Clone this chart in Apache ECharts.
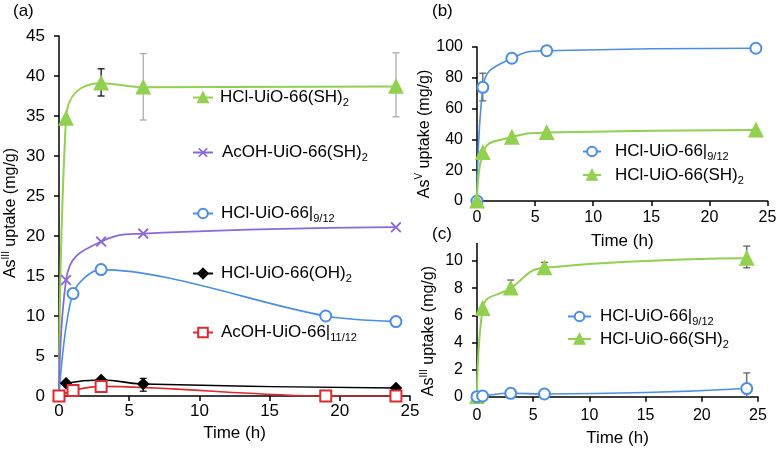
<!DOCTYPE html>
<html><head><meta charset="utf-8">
<script src="https://cdn.jsdelivr.net/npm/echarts@6/dist/echarts.min.js"></script>
<style>html,body{margin:0;padding:0;background:#fff}#c{width:784px;height:451px}</style>
</head><body><div id="c"></div>
<script>
// ---------- Panel (a): As(III) uptake ----------
const tA_SH = [0, 0.5, 3, 6, 24];
const vA_SH = [0, 34.7, 39.1, 38.6, 38.7];
const tA_AcSH = [0, 0.5, 3, 6, 24];
const vA_AcSH = [0, 14.5, 19.3, 20.3, 21.1];
const tA_912 = [0, 1, 3, 19, 24];
const vA_912 = [0, 12.8, 15.8, 10.0, 9.3];
const tA_OH = [0.5, 3, 6, 24];
const vA_OH = [1.6, 2.0, 1.5, 1.0];
const tA_1112 = [0, 1, 3, 19, 24];
const vA_1112 = [0, 0.7, 1.2, 0, 0];
const errA_black = [[3, 37.5, 40.9], [6, 0.6, 2.2]];
const errA_gray = [[6, 34.5, 42.8], [24, 34.9, 42.9]];
// ---------- Panel (b): As(V) uptake ----------
const tB = [0, 0.5, 3, 6, 24];
const vB_912 = [0, 73.8, 92.7, 97.6, 99.2];
const vB_SH = [0, 31.4, 41.4, 44.4, 46.1];
const errB = [[0.5, 65, 83]];
// ---------- Panel (c): As(III) uptake ----------
const tC = [0, 0.5, 3, 6, 24];
const vC_912 = [0, 0.05, 0.25, 0.2, 0.6];
const vC_SH = [0, 6.5, 8.0, 9.5, 10.2];
const errC = [[3, 7.9, 8.6], [6, 9.3, 9.9], [24, 9.5, 11.1], [24, 0, 1.75]];
// ---------- tick labels ----------
const xTicks = [0, 5, 10, 15, 20, 25];
const yTicksA = [0, 5, 10, 15, 20, 25, 30, 35, 40, 45];
const yTicksB = [0, 20, 40, 60, 80, 100];
const yTicksC = [0, 2, 4, 6, 8, 10];

const N_SH = 'HCl-UiO-66(SH)2';
const N_AcSH = 'AcOH-UiO-66(SH)2';
const N_912 = 'HCl-UiO-66|9/12';
const N_OH = 'HCl-UiO-66(OH)2';
const N_1112 = 'AcOH-UiO-66|11/12';

const FONT = 'Liberation Sans, Arial, sans-serif';
const GREEN = '#92D050', BLUE = '#4A8EE6', PURPLE = '#8A68DC', RED = '#DD2A2E', BLACK = '#000';
const X_PATH = 'path://M0,1.2 L1.2,0 L5,3.8 L8.8,0 L10,1.2 L6.2,5 L10,8.8 L8.8,10 L5,6.2 L1.2,10 L0,8.8 L3.8,5 Z';

const richMap = {
  [N_SH]: '{n|HCl-UiO-66(SH)}{sub|2}',
  [N_AcSH]: '{n|AcOH-UiO-66(SH)}{sub|2}',
  [N_912]: '{n|HCl-UiO-66|}{sub|9/12}',
  [N_OH]: '{n|HCl-UiO-66(OH)}{sub|2}',
  [N_1112]: '{n|AcOH-UiO-66|}{sub|11/12}'
};
const legRich = {
  n: { fontSize: 17, fontFamily: FONT, color: '#000', lineHeight: 22 },
  sub: { fontSize: 11, fontFamily: FONT, color: '#000', lineHeight: 12, verticalAlign: 'bottom' }
};
const nameRich = {
  n: { fontSize: 16, fontFamily: FONT, color: '#000', lineHeight: 20 },
  sup: { fontSize: 10, fontFamily: FONT, color: '#000', lineHeight: 10, verticalAlign: 'top' }
};

const pairs = (t, v) => t.map((x, i) => [x, v[i]]);

function xAxisOf(gi, margin, gap, fs) {
  return {
    gridIndex: gi, type: 'value', min: 0, max: 25, interval: 5,
    name: 'Time (h)', nameLocation: 'middle', nameGap: gap,
    nameTextStyle: { fontSize: 17, fontFamily: FONT, color: '#000' },
    axisLine: { onZero: false, lineStyle: { color: '#000', width: 1.5 } },
    axisTick: { show: true, length: 5, inside: false, lineStyle: { color: '#000', width: 1.5 }, customValues: xTicks },
    axisLabel: { fontSize: fs, fontFamily: FONT, color: '#000', margin: margin, customValues: xTicks },
    splitLine: { show: false }
  };
}
function yAxisOf(gi, max, ticks, nameStr, pad, fs) {
  return {
    gridIndex: gi, type: 'value', min: 0, max: max,
    name: nameStr, nameLocation: 'middle', nameGap: 38, nameRotate: 90,
    nameTextStyle: { rich: nameRich, padding: pad },
    axisLine: { onZero: false, lineStyle: { color: '#000', width: 1.5 } },
    axisTick: { show: true, length: 5, lineStyle: { color: '#000', width: 1.5 }, customValues: ticks },
    axisLabel: { fontSize: fs, fontFamily: FONT, color: '#000', margin: 14, customValues: ticks },
    splitLine: { show: false }
  };
}

function lineSeries(name, gi, t, v, color, symbol, size, opts) {
  return Object.assign({
    type: 'line', name: name, xAxisIndex: gi, yAxisIndex: gi,
    data: pairs(t, v), smooth: 0.5, symbol: symbol, symbolSize: size,
    lineStyle: { color: color, width: 2 },
    itemStyle: { color: color, borderColor: color, borderWidth: 1.8 },
    z: 3, animation: false
  }, opts || {});
}
function errSeries(gi, data, color) {
  return {
    type: 'custom', xAxisIndex: gi, yAxisIndex: gi, data: data, z: 2,
    encode: { x: 0, y: [1, 2] }, animation: false, silent: true,
    renderItem: function (params, api) {
      const x = api.value(0);
      const p1 = api.coord([x, api.value(1)]);
      const p2 = api.coord([x, api.value(2)]);
      const w = 3.5;
      const st = { stroke: color, lineWidth: 1.2 };
      return { type: 'group', children: [
        { type: 'line', shape: { x1: p1[0], y1: p1[1], x2: p2[0], y2: p2[1] }, style: st },
        { type: 'line', shape: { x1: p1[0] - w, y1: p1[1], x2: p1[0] + w, y2: p1[1] }, style: st },
        { type: 'line', shape: { x1: p2[0] - w, y1: p2[1], x2: p2[0] + w, y2: p2[1] }, style: st }
      ] };
    }
  };
}
const hideZero = (s) => (val) => (val[0] === 0 ? 0 : s);

function legendOf(names, left, top, iw, padLeft, gap) {
  return {
    data: names, orient: 'vertical', left: left, top: top, itemWidth: iw, itemHeight: 12,
    itemGap: gap, selectedMode: false, padding: 0,
    formatter: (n) => richMap[n],
    textStyle: { rich: legRich, padding: [0, 0, 0, padLeft] }
  };
}

const chart = echarts.init(document.getElementById('c'));
chart.setOption({
  backgroundColor: '#fff',
  animation: false,
  grid: [
    { left: 58, top: 36, width: 352, height: 360 },
    { left: 477, top: 47, width: 290.5, height: 154 },
    { left: 477, top: 243.4, width: 281, height: 153.3 }
  ],
  xAxis: [xAxisOf(0, 7, 27, 17), xAxisOf(1, 9, 32, 16), xAxisOf(2, 11, 33, 16)],
  yAxis: [
    yAxisOf(0, 45, yTicksA, '{n|As}{sup|III}{n| uptake (mg/g)}', [0, 0, 0, 6], 17),
    yAxisOf(1, 100, yTicksB, '{n|As}{sup|V}{n| uptake (mg/g)}', [0, 20, 0, 0], 16),
    yAxisOf(2, 11.3, yTicksC, '{n|As}{sup|III}{n| uptake (mg/g)}', [0, 22, 0, 0], 16)
  ],
  legend: [
    legendOf([N_SH], 192, 89, 20, 2, 0),
    legendOf([N_AcSH], 192, 144, 20, 4, 0),
    legendOf([N_912], 192, 205, 20, 3, 0),
    legendOf([N_OH], 192, 265, 20, 3, 0),
    legendOf([N_1112], 192, 324, 20, 3, 0),
    legendOf([N_912, N_SH], 582, 143, 18, 9, 4),
    legendOf([N_912, N_SH], 567, 308, 23, 4, 3)
  ],
  graphic: [
    { type: 'text', left: 13, top: 3, style: { text: '(a)', fontSize: 17, fontFamily: FONT, fill: '#000' } },
    { type: 'text', left: 432, top: 3, style: { text: '(b)', fontSize: 17, fontFamily: FONT, fill: '#000' } },
    { type: 'text', left: 432, top: 226, style: { text: '(c)', fontSize: 17, fontFamily: FONT, fill: '#000' } }
  ],
  series: [
    errSeries(0, errA_gray, '#A8A8A8'),
    errSeries(0, errA_black, '#000'),
    lineSeries(N_SH, 0, tA_SH, vA_SH, GREEN, 'triangle', hideZero(13)),
    lineSeries(N_AcSH, 0, tA_AcSH, vA_AcSH, PURPLE, X_PATH, hideZero(11), { itemStyle: { color: PURPLE, borderWidth: 0 }, lineStyle: { color: PURPLE, width: 1.8 } }),
    lineSeries(N_912, 0, tA_912, vA_912, BLUE, 'emptyCircle', hideZero(11), { smooth: 0.3, lineStyle: { color: BLUE, width: 1.6 } }),
    lineSeries(N_OH, 0, tA_OH, vA_OH, BLACK, 'diamond', 10, { lineStyle: { color: BLACK, width: 1.6 } }),
    lineSeries(N_1112, 0, tA_1112, vA_1112, RED, 'emptyRect', 11, { smooth: 0.3, lineStyle: { color: RED, width: 1.6 } }),

    errSeries(1, errB, '#555'),
    lineSeries(N_912, 1, tB, vB_912, BLUE, 'emptyCircle', 11, { lineStyle: { color: BLUE, width: 1.6 } }),
    lineSeries(N_SH, 1, tB, vB_SH, GREEN, 'triangle', 13),

    errSeries(2, errC, '#555'),
    lineSeries(N_SH, 2, tC, vC_SH, GREEN, 'triangle', 13),
    lineSeries(N_912, 2, tC, vC_912, BLUE, 'emptyCircle', 11, { lineStyle: { color: BLUE, width: 1.6 } })
  ]
});
</script>
</body></html>
